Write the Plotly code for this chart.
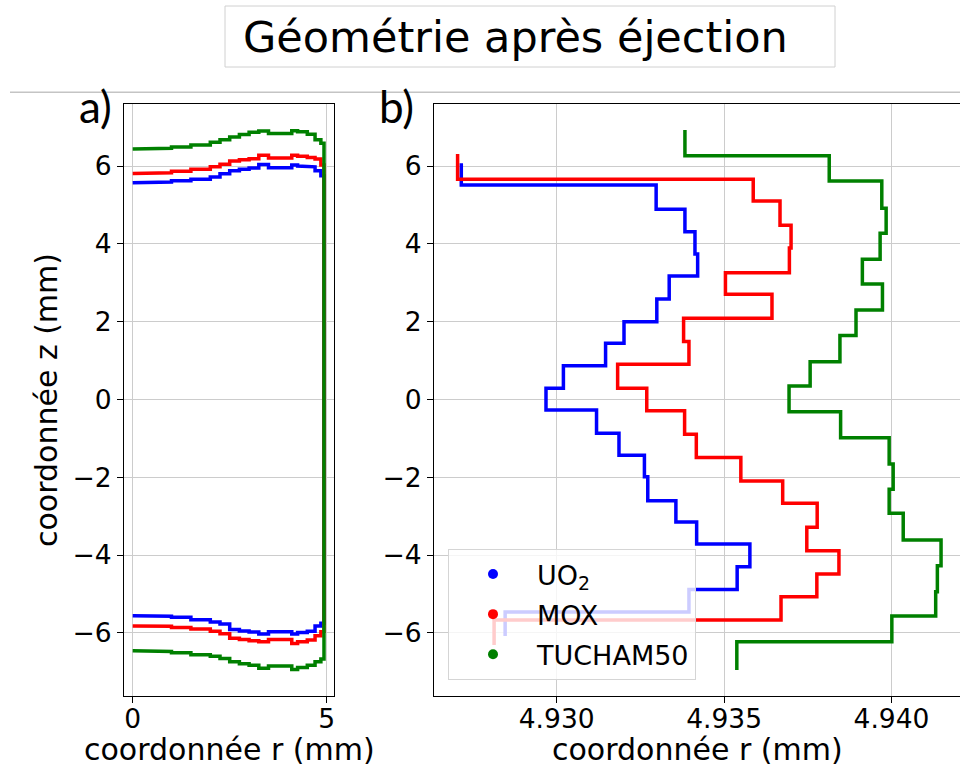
import plotly.graph_objects as go

# ---------------- data ----------------
materials = ["UO<sub>2</sub>", "MOX", "TUCHAM50"]
colors = ["#0000ff", "#ff0000", "#008000"]

# Panel a: top / bottom surface z(r) of the pellet (mm), stepwise in r
r_prof = [0.0, 0.5, 1.0, 1.5, 2.0, 2.25, 2.5, 2.75, 3.0, 3.25, 3.5, 3.75,
          4.0, 4.1, 4.25, 4.5, 4.7, 4.85, 4.93]

z_top_uo2 = [5.57, 5.59, 5.62, 5.66, 5.72, 5.80, 5.88, 5.92, 5.95, 6.04, 5.96, 5.96,
             5.96, 6.03, 6.00, 5.98, 5.88, 5.75, 5.72]
z_bot_uo2 = [-5.56, -5.57, -5.60, -5.66, -5.72, -5.77, -5.91, -5.95, -5.98, -6.03, -5.97, -5.97,
             -5.97, -6.03, -5.99, -5.96, -5.82, -5.75, -5.80]

z_top_mox = [5.81, 5.83, 5.87, 5.92, 5.98, 6.05, 6.13, 6.16, 6.19, 6.28, 6.21, 6.21,
             6.21, 6.28, 6.25, 6.22, 6.18, 6.03, 5.95]
z_bot_mox = [-5.82, -5.83, -5.86, -5.90, -5.96, -6.02, -6.14, -6.17, -6.20, -6.23, -6.17, -6.17,
             -6.17, -6.27, -6.23, -6.18, -6.07, -5.97, -6.00]

z_top_tuc = [6.44, 6.46, 6.49, 6.54, 6.61, 6.68, 6.75, 6.81, 6.87, 6.90, 6.84, 6.84,
             6.84, 6.91, 6.88, 6.82, 6.68, 6.59, 6.40]
z_bot_tuc = [-6.46, -6.48, -6.51, -6.56, -6.60, -6.66, -6.74, -6.79, -6.83, -6.91, -6.85, -6.85,
             -6.85, -6.94, -6.89, -6.83, -6.74, -6.67, -6.52]

# Panel b: outer radius (mm) of each axial layer, layer limits in z (mm)
z_edge_uo2 = [6.072, 5.514, 4.889, 4.314, 3.740, 3.175, 2.584, 2.000, 1.445, 0.869, 0.288,
              -0.270, -0.869, -1.434, -1.985, -2.602, -3.149, -3.715, -4.298, -4.884, -5.463, -6.080]
r_edge_uo2 = [4.92715, 4.93297, 4.93383, 4.93413, 4.93421, 4.93336, 4.93299, 4.93201, 4.93146,
              4.93020, 4.92968, 4.93119, 4.93186, 4.93262, 4.93272, 4.93356, 4.93418, 4.93577,
              4.93539, 4.93395, 4.92846]

z_edge_mox = [6.311, 5.661, 5.103, 4.478, 3.895, 3.260, 2.704, 2.087, 1.491, 0.905, 0.288,
              -0.288, -0.892, -1.491, -2.095, -2.668, -3.285, -3.887, -4.486, -5.069, -5.668, -6.311]
r_edge_mox = [4.92704, 4.93587, 4.93667, 4.93700, 4.93695, 4.93504, 4.93643, 4.93379, 4.93395,
              4.93182, 4.93269, 4.93382, 4.93417, 4.93550, 4.93675, 4.93778, 4.93747, 4.93843,
              4.93777, 4.93670, 4.92813]

z_edge_tuc = [6.928, 6.267, 5.617, 4.915, 4.272, 3.604, 2.969, 2.301, 1.645, 0.972, 0.347,
              -0.314, -0.982, -1.658, -2.308, -2.925, -3.612, -4.272, -4.941, -5.566, -6.226, -6.954]
r_edge_tuc = [4.93383, 4.93814, 4.93971, 4.93984, 4.93966, 4.93913, 4.93973, 4.93894, 4.93846,
              4.93757, 4.93694, 4.93848, 4.93993, 4.94005, 4.93993, 4.94035, 4.94148, 4.94137,
              4.94132, 4.94001, 4.93538]

z_ticks = [-6, -4, -2, 0, 2, 4, 6]
r_ticks_a = [0, 5]
r_ticks_b = [4.930, 4.935, 4.940]


def outline(r_nodes, z_top, z_bot):
    """Stepwise top surface left->right, then bottom surface right->left."""
    xs, ys = [], []
    for i in range(len(r_nodes)):
        if i > 0:
            xs.append(r_nodes[i]); ys.append(z_top[i - 1])
        xs.append(r_nodes[i]); ys.append(z_top[i])
    for i in range(len(r_nodes) - 1, -1, -1):
        xs.append(r_nodes[i]); ys.append(z_bot[i])
        if i > 0:
            xs.append(r_nodes[i]); ys.append(z_bot[i - 1])
    return xs, ys


def edge(z_nodes, r_vals):
    """Outer radius as a staircase running down through the layers."""
    xs, ys = [], []
    for i, r in enumerate(r_vals):
        xs += [r, r]
        ys += [z_nodes[i], z_nodes[i + 1]]
    return xs, ys


profiles = [(z_top_uo2, z_bot_uo2), (z_top_mox, z_bot_mox), (z_top_tuc, z_bot_tuc)]
edges = [(z_edge_uo2, r_edge_uo2), (z_edge_mox, r_edge_mox), (z_edge_tuc, r_edge_tuc)]

LW = 3.5
fig = go.Figure()

for (zt, zb), col in zip(profiles, colors):
    xs, ys = outline(r_prof, zt, zb)
    fig.add_trace(go.Scatter(x=xs, y=ys, mode="lines", line=dict(color=col, width=LW),
                             xaxis="x", yaxis="y", showlegend=False, hoverinfo="skip"))

for (zn, rv), col in zip(edges, colors):
    xs, ys = edge(zn, rv)
    fig.add_trace(go.Scatter(x=xs, y=ys, mode="lines", line=dict(color=col, width=LW),
                             xaxis="x2", yaxis="y2", showlegend=False, hoverinfo="skip"))

for name, col in zip(materials, colors):
    fig.add_trace(go.Scatter(x=[None], y=[None], mode="markers", name=name,
                             marker=dict(color=col, size=10),
                             xaxis="x2", yaxis="y2", legendgroup=name))

W, H = 960, 767
y_dom = [(H - 696) / H, (H - 104) / H]
grid = "#cccccc"
tickfont = dict(family="DejaVu Sans", size=26.5, color="black")
labelfont = dict(family="DejaVu Sans", size=30, color="black")

common_axis = dict(showgrid=True, gridcolor=grid, gridwidth=1, zeroline=False,
                   showline=True, linecolor="black", linewidth=1,
                   ticks="outside", ticklen=6, tickcolor="black", tickfont=tickfont)

fig.update_layout(
    width=W, height=H,
    margin=dict(l=0, r=0, t=0, b=0),
    paper_bgcolor="white", plot_bgcolor="white",
    font=dict(family="DejaVu Sans", color="black"),
    xaxis=dict(domain=[124 / W, 334 / W], range=[-0.224, 5.188], tickvals=r_ticks_a,
               anchor="y", mirror=True, ticklabelstandoff=-7, **common_axis),
    yaxis=dict(domain=y_dom, range=[-7.622, 7.596], tickvals=z_ticks, anchor="x",
               mirror=True, **common_axis),
    xaxis2=dict(domain=[434 / W, 1.0], range=[4.926335, 4.942046], tickvals=r_ticks_b,
                tickformat=".3f", anchor="y2", mirror=True, ticklabelstandoff=-7,
                **common_axis),
    yaxis2=dict(domain=y_dom, range=[-7.622, 7.596], tickvals=z_ticks, anchor="x2",
                mirror=False, **common_axis),
    legend=dict(x=448 / W, y=(H - 549) / H, xanchor="left", yanchor="top",
                bgcolor="rgba(255,255,255,0.8)", bordercolor="#d5d5d5", borderwidth=1,
                font=dict(family="DejaVu Sans", size=27, color="black"),
                itemwidth=78, traceorder="grouped", tracegroupgap=2),
)

# axis titles
fig.add_annotation(x=229 / W, y=(H - 749) / H, xref="paper", yref="paper",
                   xanchor="center", yanchor="middle", showarrow=False,
                   text="coordonnée r (mm)", font=labelfont)
fig.add_annotation(x=697 / W, y=(H - 749) / H, xref="paper", yref="paper",
                   xanchor="center", yanchor="middle", showarrow=False,
                   text="coordonnée r (mm)", font=labelfont)
fig.add_annotation(x=46 / W, y=(H - 400) / H, xref="paper", yref="paper",
                   xanchor="center", yanchor="middle", showarrow=False, textangle=-90,
                   text="coordonnée z (mm)", font=labelfont)

# title box, separator line and panel letters
fig.add_shape(type="rect", xref="paper", yref="paper",
              x0=225 / W, x1=835 / W, y0=(H - 67) / H, y1=(H - 6) / H,
              line=dict(color="#d0d0d0", width=1), fillcolor="white")
fig.add_annotation(x=515 / W, y=(H - 37) / H, xref="paper", yref="paper",
                   xanchor="center", yanchor="middle",
                   text="Géométrie après éjection", showarrow=False,
                   font=dict(family="DejaVu Sans", size=43, color="black"))
fig.add_shape(type="line", xref="paper", yref="paper", x0=10 / W, x1=1.0,
              y0=(H - 92.3) / H, y1=(H - 92.3) / H, line=dict(color="#c4c4c4", width=1.5))
fig.add_annotation(x=95 / W, y=(H - 106) / H, xref="paper", yref="paper", text="a)",
                   xanchor="center", yanchor="middle", showarrow=False,
                   font=dict(family="Lato", size=44, color="black"))
fig.add_annotation(x=396 / W, y=(H - 106) / H, xref="paper", yref="paper", text="b)",
                   xanchor="center", yanchor="middle", showarrow=False,
                   font=dict(family="Lato", size=44, color="black"))

fig.write_html("out.html")
